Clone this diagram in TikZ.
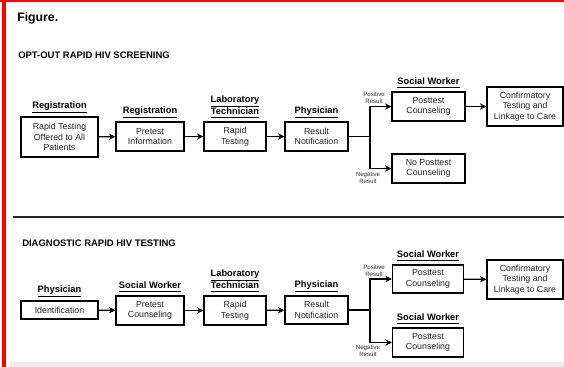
\documentclass[tikz,border=0pt]{standalone}
\usepackage{fontspec}
\setmainfont{Liberation Sans}
\usetikzlibrary{arrows.meta}
\begin{document}
\begin{tikzpicture}[x=0.75pt,y=-0.75pt,
 box/.style={draw,line width=1pt,align=center,font=\fontsize{6.6}{7.9}\selectfont,inner sep=0pt,text=black!85},
 sz/.style 2 args={minimum width=#1*0.75pt,minimum height=#2*0.75pt},
 role/.style={font=\fontsize{7}{8.2}\selectfont\bfseries,align=center,inner sep=0pt,anchor=south},
 conn/.style={line width=1pt},
 arr/.style={conn,-{Stealth[length=4.8pt,width=4.8pt]}},
 tinytxt/.style={font=\fontsize{4.6}{5.4}\selectfont,align=center,inner sep=0pt,text=black!80},
 title/.style={font=\fontsize{7.1}{8}\selectfont\bfseries,anchor=west,inner sep=0pt}]
\useasboundingbox (0,0) rectangle (564,367);
\fill[white] (0,0) rectangle (564,367);
\fill[black!3] (6,2) rectangle (564,6);
\fill[black!8] (10,362) rectangle (564,367);
\fill[red] (0,0) rectangle (564,2);
\fill[red] (2,0) rectangle (6,367);

\node[title,font=\fontsize{9.2}{10}\selectfont\bfseries] (fig) at (17,18) {Figure.};
\node[title] (t1) at (18,55) {OPT-OUT RAPID HIV SCREENING};
\node[title] (t2) at (22,243) {DIAGNOSTIC RAPID HIV TESTING};
\coordinate (dl) at (13,217);
\coordinate (dr) at (564,217);
\draw[line width=1pt,black!85] (dl) -- (dr);

% top row
\node[box,sz={77}{40}] (b1) at (59.5,137) {Rapid Testing\\Offered to All\\Patients};
\node[box,sz={68}{29}] (b2) at (150,136.5) {Pretest\\Information};
\node[box,sz={62}{29}] (b3) at (235,136.5) {Rapid\\Testing};
\node[box,sz={63}{29}] (b4) at (316.5,136.5) {Result\\Notification};
\node[box,sz={73}{29}] (b5) at (428.5,106.5) {Posttest\\Counseling};
\node[box,sz={76}{39}] (b6) at (525,106.5) {Confirmatory\\Testing and\\Linkage to Care};
\node[box,sz={73}{29}] (b7) at (428.5,168.5) {No Posttest\\Counseling};

\node[role] (r1) at ([yshift=2.5pt]b1.north) {\underline{Registration}};
\node[role] (r2) at ([yshift=2.5pt]b2.north) {\underline{Registration}};
\node[role] (r3) at ([yshift=2.5pt]b3.north) {\underline{Laboratory}\\\underline{Technician}};
\node[role] (r4) at ([yshift=2.5pt]b4.north) {\underline{Physician}};
\node[role] (r5) at ([yshift=2.5pt]b5.north) {\underline{Social Worker}};

\draw[arr] (b1) -- (b2);
\draw[arr] (b2) -- (b3);
\draw[arr] (b3) -- (b4);
\coordinate (br1) at (370,136.5);
\draw[conn] (b4.east) -- (br1);
\draw[arr] (br1) |- (b5.west);
\draw[arr] (br1) |- (b7.west);
\draw[arr] (b5) -- (b6);
\node[tinytxt] (p1) at (374,97.5) {Positive\\Result};
\node[tinytxt] (n1) at (368,177.5) {Negative\\Result};

% bottom row
\node[box,sz={77}{18}] (c1) at (59.5,310) {Identification};
\node[box,sz={68}{29}] (c2) at (150,310.5) {Pretest\\Counseling};
\node[box,sz={62}{29}] (c3) at (235,310.5) {Rapid\\Testing};
\node[box,sz={63}{28}] (c4) at (316.5,310) {Result\\Notification};
\node[box,sz={71}{28}] (c5) at (428,279) {Posttest\\Counseling};
\node[box,sz={76}{39}] (c6) at (525,279.5) {Confirmatory\\Testing and\\Linkage to Care};
\node[box,sz={71}{29}] (c7) at (428,342.5) {Posttest\\Counseling};

\node[role] (s1) at ([yshift=2.5pt]c1.north) {\underline{Physician}};
\node[role] (s2) at ([yshift=2.5pt]c2.north) {\underline{Social Worker}};
\node[role] (s3) at ([yshift=2.5pt]c3.north) {\underline{Laboratory}\\\underline{Technician}};
\node[role] (s4) at ([yshift=2.5pt]c4.north) {\underline{Physician}};
\node[role] (s5) at ([yshift=2.5pt]c5.north) {\underline{Social Worker}};
\node[role] (s7) at ([yshift=2.5pt]c7.north) {\underline{Social Worker}};

\draw[arr] (c1) -- (c2);
\draw[arr] (c2) -- (c3);
\draw[arr] (c3) -- (c4);
\coordinate (br2) at (370,310);
\draw[conn] (c4.east) -- (br2);
\draw[arr] (br2) |- (c5.west);
\draw[arr] (br2) |- (c7.west);
\draw[arr] (c5) -- (c6);
\node[tinytxt] (p2) at (374,271) {Positive\\Result};
\node[tinytxt] (n2) at (368,351) {Negative\\Result};
\end{tikzpicture}
\end{document}
